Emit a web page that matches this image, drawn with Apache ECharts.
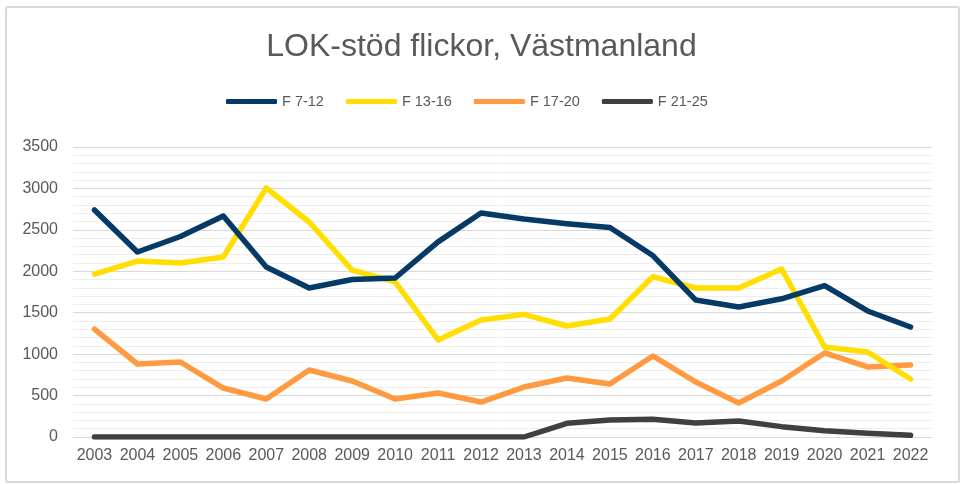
<!DOCTYPE html>
<html>
<head>
<meta charset="utf-8">
<script src="https://cdn.jsdelivr.net/npm/echarts@6/dist/echarts.min.js"></script>
<style>
html,body{margin:0;padding:0;background:#fff;}
#chart{width:963px;height:484px;}
</style>
</head>
<body>
<div id="chart"></div>
<script>
const years = ['2003','2004','2005','2006','2007','2008','2009','2010','2011','2012','2013','2014','2015','2016','2017','2018','2019','2020','2021','2022'];
const f7_12  = [2740,2233,2420,2667,2052,1798,1900,1919,2355,2703,2631,2575,2528,2190,1653,1569,1668,1826,1521,1327];
const f13_16 = [1967,2124,2100,2172,3005,2595,2015,1871,1171,1412,1480,1340,1424,1935,1798,1798,2028,1086,1026,700];
const f17_20 = [1303,881,905,591,459,809,676,459,531,422,603,712,640,978,664,410,676,1014,845,870];
const f21_25 = [0,0,0,0,0,0,0,0,0,0,0,165,205,215,169,193,125,75,45,20];
const seriesNames = ['F 7-12','F 13-16','F 17-20','F 21-25'];
const yTicks = [0,500,1000,1500,2000,2500,3000,3500];

const colors = ['#053A67','#FFDE00','#FF9A40','#404040'];
const dataAll = [f7_12, f13_16, f17_20, f21_25];

const chart = echarts.init(document.getElementById('chart'), null, {renderer:'canvas'});
const font = '"Liberation Sans", Arial, sans-serif';
chart.setOption({
  animation:false,
  backgroundColor:'#fff',
  color: colors,
  textStyle:{fontFamily:font},
  graphic:[{
    type:'rect', z:-1,
    shape:{x:6,y:7,width:953,height:475,r:2},
    style:{fill:'none',stroke:'#d9d9d9',lineWidth:2}
  }],
  title:{
    text:'LOK-stöd flickor, Västmanland',
    left:'center', top:26,
    textStyle:{fontFamily:font,fontSize:32,fontWeight:'normal',color:'#595959'}
  },
  legend:{
    top:89, left:221,
    itemWidth:51, itemHeight:5, itemGap:22,
    icon:'roundRect',
    textStyle:{fontFamily:font,fontSize:14.5,color:'#595959'},
    data: seriesNames
  },
  grid:{left:73,right:31,top:147,bottom:47,containLabel:false},
  xAxis:{
    type:'category', data: years, boundaryGap:true,
    axisLine:{show:false}, axisTick:{show:false},
    axisLabel:{fontFamily:font,fontSize:16,color:'#595959',margin:11,interval:0}
  },
  yAxis:{
    type:'value', min:yTicks[0], max:yTicks[yTicks.length-1], interval:500,
    axisLine:{show:false}, axisTick:{show:false},
    axisLabel:{fontFamily:font,fontSize:16,color:'#595959',margin:15,formatter:(v)=>String(v)},
    splitLine:{lineStyle:{color:'#d9d9d9',width:1}},
    minorTick:{show:false, splitNumber:5},
    minorSplitLine:{show:true,lineStyle:{color:'#eeeeee',width:1}}
  },
  series: seriesNames.map((n,i)=>({
    name:n, type:'line', data:dataAll[i],
    symbol:'none', showSymbol:false,
    lineStyle:{width:5.5,color:colors[i],cap:'round',join:'round'},
    itemStyle:{color:colors[i]},
    z: i===3 ? 1 : 4-i
  }))
});
</script>
</body>
</html>
